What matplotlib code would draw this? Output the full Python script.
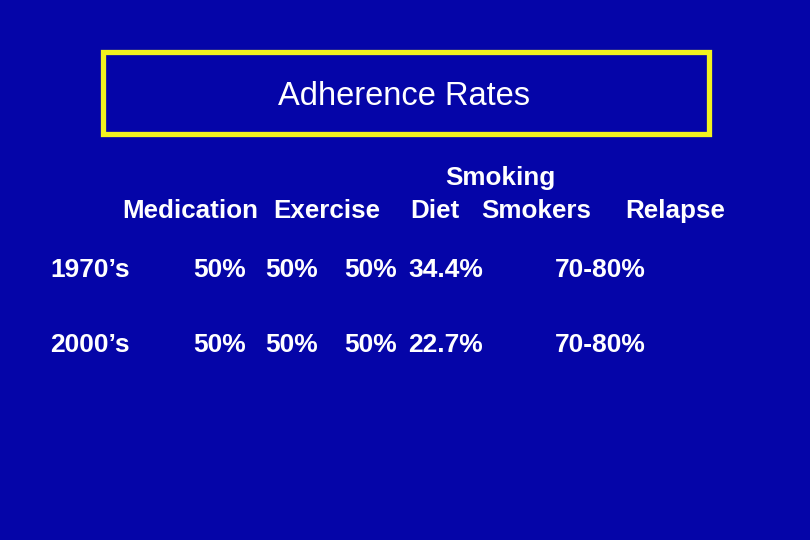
import matplotlib
matplotlib.use('Agg')
import matplotlib.pyplot as plt
from matplotlib.patches import Rectangle

plt.rcParams['font.family'] = ['Liberation Sans', 'DejaVu Sans']

title = 'Adherence Rates'
headers = ['Medication', 'Exercise', 'Diet', 'Smokers', 'Relapse']
header_top = 'Smoking'
rows = ['1970\u2019s', '2000\u2019s']
values = [['50%', '50%', '50%', '34.4%', '70-80%'],
          ['50%', '50%', '50%', '22.7%', '70-80%']]

bg = '#0505a8'
fg = 'white'

# layout in pixel coordinates
header_x = [122, 273, 410, 481, 625]
value_x = [193, 265, 344, 408, 555]
row_y = [277, 352]

fig = plt.figure(figsize=(8.1, 5.4), dpi=100)
fig.patch.set_facecolor(bg)
ax = fig.add_axes([0, 0, 1, 1])
ax.set_xlim(0, 810)
ax.set_ylim(540, 0)
ax.axis('off')
ax.set_facecolor(bg)

ax.add_patch(Rectangle((102.5, 51.5), 606, 82, fill=False,
                       edgecolor='#f2f21e', linewidth=3.8))
ax.text(404, 105, title, color=fg, fontsize=23.5, ha='center', va='baseline')

ax.text(500, 185, header_top, color=fg, fontsize=18.7, fontweight='bold',
        ha='center', va='baseline')
for x, h in zip(header_x, headers):
    ax.text(x, 218, h, color=fg, fontsize=18.7, fontweight='bold',
            ha='left', va='baseline')

for y, label, vals in zip(row_y, rows, values):
    ax.text(50, y, label, color=fg, fontsize=19, fontweight='bold',
            ha='left', va='baseline')
    for x, v in zip(value_x, vals):
        ax.text(x, y, v, color=fg, fontsize=19, fontweight='bold',
                ha='left', va='baseline')

fig.savefig('out.png', dpi=100, facecolor=bg)
